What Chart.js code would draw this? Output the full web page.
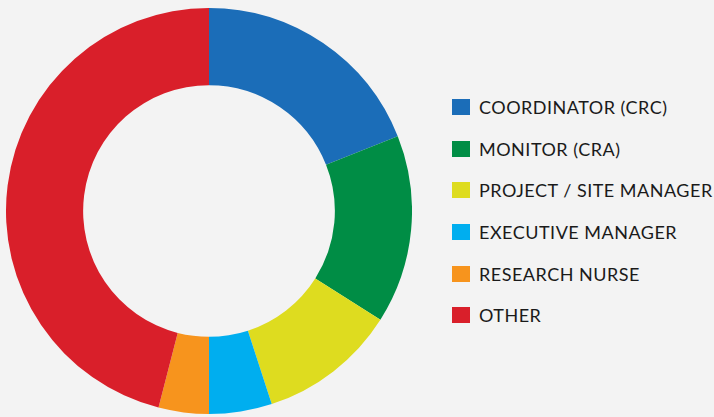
<!DOCTYPE html>
<html>
<head>
<meta charset="utf-8">
<script src="https://cdn.jsdelivr.net/npm/chart.js@4"></script>
<style>
  html, body { margin: 0; padding: 0; background: #f3f3f3; }
  #wrap { position: relative; width: 714px; height: 417px; overflow: hidden; }
  #donut { position: absolute; left: 6px; top: 8px; width: 406px; height: 406px; }
  #legend { position: absolute; left: 452px; top: 96px; margin: 0; padding: 0; list-style: none;
            font-family: Lato, "Noto Sans", sans-serif; font-size: 18px; color: #1a1a1a; }
  #legend li { height: 41.7px; display: flex; align-items: flex-start; white-space: nowrap; letter-spacing: 0.5px; }
  #legend span.box { display: inline-block; width: 18px; height: 16px; margin-right: 9px; margin-top: 3px; }
</style>
</head>
<body>
<div id="wrap">
  <div id="donut"><canvas id="chart"></canvas></div>
  <ul id="legend"></ul>
</div>
<script>
// roles, share of respondents (%)
var categories = ['COORDINATOR (CRC)', 'MONITOR (CRA)', 'PROJECT / SITE MANAGER',
                  'EXECUTIVE MANAGER', 'RESEARCH NURSE', 'OTHER'];
var shares = [19, 15, 11, 5, 4, 46];
var colors = ['#1b6db8', '#008d45', '#dedc1f', '#00aeef', '#f7941d', '#d91f2a'];

var chart = new Chart(document.getElementById('chart').getContext('2d'), {
    type: 'doughnut',
    data: {
        labels: categories,
        datasets: [{
            data: shares,
            backgroundColor: colors,
            borderWidth: 0,
            hoverOffset: 0
        }]
    },
    options: {
        responsive: true,
        maintainAspectRatio: false,
        animation: false,
        cutout: '62%',
        layout: { padding: 0 },
        plugins: {
            legend: { display: false },
            tooltip: { enabled: false }
        }
    }
});

// build the legend from the chart's own labels
var ul = document.getElementById('legend');
chart.options.plugins.legend.labels.generateLabels(chart).forEach(function(item) {
    var li = document.createElement('li');
    var box = document.createElement('span');
    box.className = 'box';
    box.style.background = item.fillStyle;
    li.appendChild(box);
    li.appendChild(document.createTextNode(item.text));
    ul.appendChild(li);
});
</script>
</body>
</html>
